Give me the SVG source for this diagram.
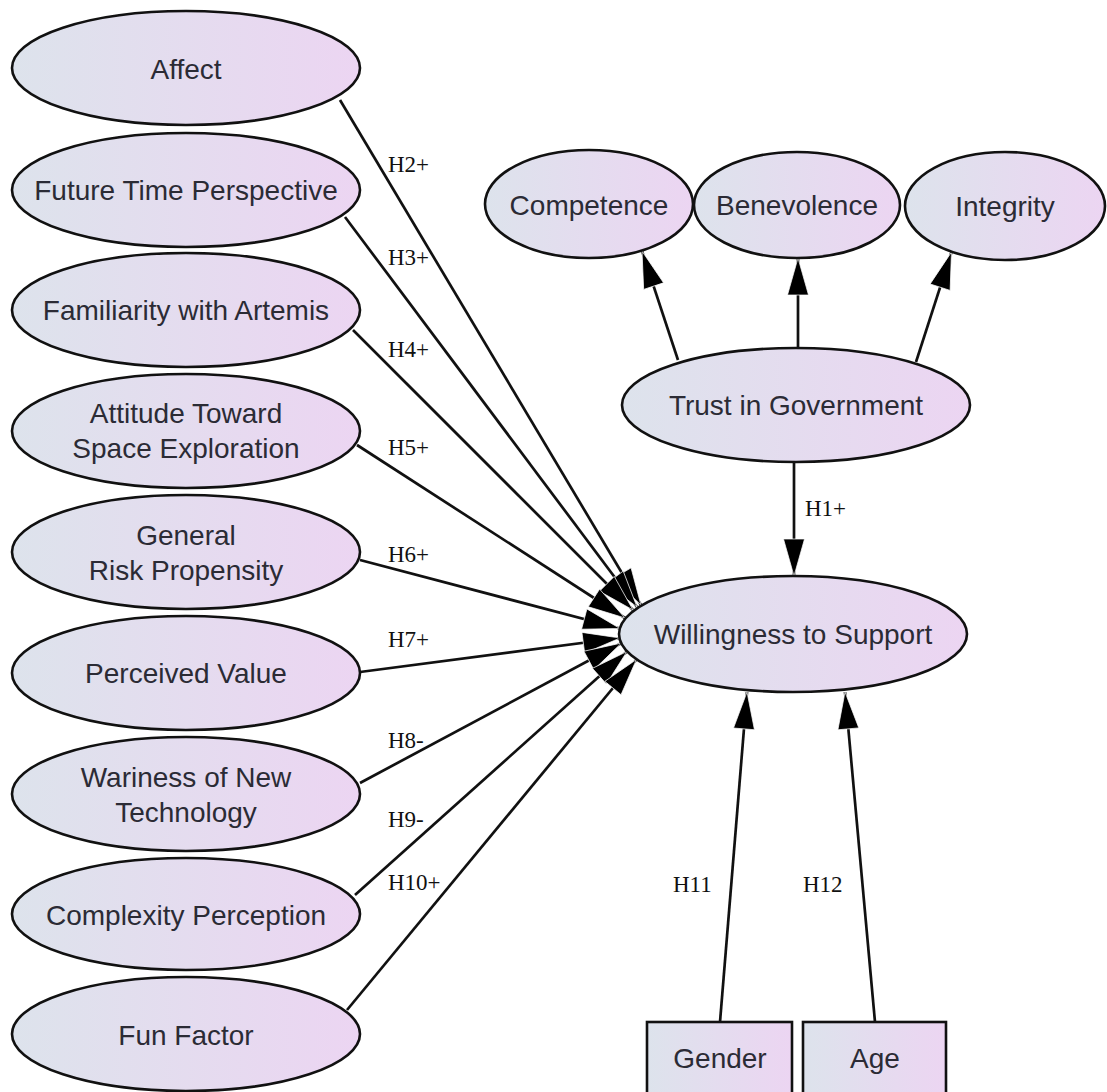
<svg xmlns="http://www.w3.org/2000/svg" width="1107" height="1092" viewBox="0 0 1107 1092">
<defs>
<linearGradient id="fillg" x1="0" y1="0" x2="1" y2="0">
<stop offset="0" stop-color="#dde3ec"/>
<stop offset="1" stop-color="#ecd5f2"/>
</linearGradient>
<marker id="arr" markerUnits="userSpaceOnUse" markerWidth="42" markerHeight="26" viewBox="0 0 42 26" refX="39" refY="13" orient="auto">
<path d="M2,2.5 L39,13 L2,23.5 Z" fill="#000" stroke="#fff" stroke-width="0.7"/>
</marker>
<style>
.node{fill:url(#fillg);stroke:#111;stroke-width:2.6}
.lbl{font-family:"Liberation Sans",Arial,sans-serif;font-size:28px;fill:#2b2b35;text-anchor:middle}
.edge{stroke:#111;stroke-width:2.7;fill:none;marker-end:url(#arr)}
.hyp{font-family:"Liberation Serif","Times New Roman",serif;font-size:23px;fill:#111}
</style>
</defs>
<rect width="1107" height="1092" fill="#fff"/>

<g id="connectors">
<line class="edge" x1="340" y1="100" x2="641" y2="605"/>
<line class="edge" x1="345" y1="217" x2="637" y2="607"/>
<line class="edge" x1="353" y1="330" x2="633" y2="610"/>
<line class="edge" x1="357" y1="445" x2="625" y2="618"/>
<line class="edge" x1="360" y1="560" x2="620" y2="628.5"/>
<line class="edge" x1="360" y1="672" x2="620" y2="638"/>
<line class="edge" x1="360" y1="783" x2="621.5" y2="643"/>
<line class="edge" x1="355" y1="895" x2="627" y2="651.5"/>
<line class="edge" x1="347" y1="1010" x2="636.5" y2="659.5"/>
<line class="edge" x1="678" y1="360" x2="642" y2="251"/>
<line class="edge" x1="798" y1="347" x2="798" y2="258"/>
<line class="edge" x1="916" y1="362" x2="951.5" y2="252"/>
<line class="edge" x1="794" y1="463" x2="794" y2="576"/>
<line class="edge" x1="720" y1="1022" x2="747" y2="692"/>
<line class="edge" x1="875" y1="1022" x2="845" y2="692"/>
<text class="hyp" x="388" y="172">H2+</text>
<text class="hyp" x="388" y="265">H3+</text>
<text class="hyp" x="388" y="357">H4+</text>
<text class="hyp" x="388" y="455">H5+</text>
<text class="hyp" x="388" y="562">H6+</text>
<text class="hyp" x="388" y="647">H7+</text>
<text class="hyp" x="388" y="748">H8-</text>
<text class="hyp" x="388" y="827">H9-</text>
<text class="hyp" x="388" y="890">H10+</text>
<text class="hyp" x="805" y="516">H1+</text>
<text class="hyp" x="673" y="892">H11</text>
<text class="hyp" x="803" y="892">H12</text>
</g>

<g id="affect"><ellipse class="node" cx="186" cy="68" rx="174" ry="57"/><text class="lbl" x="186" y="79">Affect</text></g>
<g id="ftp"><ellipse class="node" cx="186" cy="190" rx="174" ry="57"/><text class="lbl" x="186" y="200">Future Time Perspective</text></g>
<g id="familiarity"><ellipse class="node" cx="186" cy="310" rx="174" ry="57"/><text class="lbl" x="186" y="320">Familiarity with Artemis</text></g>
<g id="attitude"><ellipse class="node" cx="186" cy="431" rx="174" ry="57"/><text class="lbl" x="186" y="423">Attitude Toward</text><text class="lbl" x="186" y="458">Space Exploration</text></g>
<g id="risk"><ellipse class="node" cx="186" cy="552" rx="174" ry="57"/><text class="lbl" x="186" y="545">General</text><text class="lbl" x="186" y="580">Risk Propensity</text></g>
<g id="value"><ellipse class="node" cx="186" cy="673" rx="174" ry="57"/><text class="lbl" x="186" y="683">Perceived Value</text></g>
<g id="wariness"><ellipse class="node" cx="186" cy="794" rx="174" ry="57"/><text class="lbl" x="186" y="787">Wariness of New</text><text class="lbl" x="186" y="822">Technology</text></g>
<g id="complexity"><ellipse class="node" cx="186" cy="914" rx="174" ry="56"/><text class="lbl" x="186" y="925">Complexity Perception</text></g>
<g id="fun"><ellipse class="node" cx="186" cy="1034" rx="174" ry="57"/><text class="lbl" x="186" y="1045">Fun Factor</text></g>

<g id="competence"><ellipse class="node" cx="589" cy="204" rx="104" ry="54"/><text class="lbl" x="589" y="215">Competence</text></g>
<g id="benevolence"><ellipse class="node" cx="797" cy="205" rx="103" ry="53"/><text class="lbl" x="797" y="215">Benevolence</text></g>
<g id="integrity"><ellipse class="node" cx="1005" cy="206" rx="100" ry="54"/><text class="lbl" x="1005" y="216">Integrity</text></g>
<g id="trust"><ellipse class="node" cx="796" cy="405" rx="174" ry="57"/><text class="lbl" x="796" y="415">Trust in Government</text></g>
<g id="willingness"><ellipse class="node" cx="793" cy="634" rx="174" ry="58"/><text class="lbl" x="793" y="644">Willingness to Support</text></g>
<g id="gender"><rect class="node" x="647" y="1022" width="145" height="85"/><text class="lbl" x="720" y="1068">Gender</text></g>
<g id="age"><rect class="node" x="803" y="1022" width="143" height="85"/><text class="lbl" x="875" y="1068">Age</text></g>
</svg>
